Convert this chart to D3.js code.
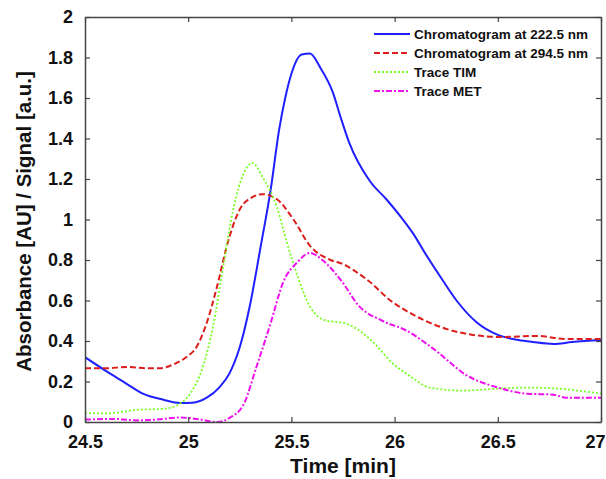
<!DOCTYPE html>
<html><head><meta charset="utf-8">
<script src="https://cdn.jsdelivr.net/npm/d3@7"></script>
<style>
html,body{margin:0;padding:0;background:#fff;}
svg{display:block;font-family:"Liberation Sans",Arial,sans-serif;}
</style></head>
<body><svg id="chart" width="606" height="479"></svg>
<script>
// ---- data (time [min], value) ----
const xTicks = [24.5, 25, 25.5, 26, 26.5, 27];
const yTicks = [0, 0.2, 0.4, 0.6, 0.8, 1, 1.2, 1.4, 1.6, 1.8, 2];
const seriesNames = ["Chromatogram at 222.5 nm", "Chromatogram at 294.5 nm", "Trace TIM", "Trace MET"];

const chrom222 = [[24.5,0.32],[24.62,0.24],[24.7,0.19],[24.78,0.14],[24.88,0.11],[24.96,0.094],[25.02,0.095],[25.09,0.12],[25.15,0.17],[25.2,0.24],[25.25,0.37],[25.3,0.58],[25.35,0.86],[25.4,1.15],[25.44,1.44],[25.47,1.6],[25.5,1.72],[25.55,1.815],[25.59,1.82],[25.64,1.75],[25.7,1.63],[25.74,1.5],[25.78,1.38],[25.88,1.19],[25.96,1.1],[26.04,1.0],[26.09,0.93],[26.15,0.83],[26.22,0.72],[26.3,0.6],[26.4,0.49],[26.5,0.43],[26.6,0.405],[26.67,0.395],[26.77,0.385],[26.86,0.395],[27.0,0.405]];
const chrom294 = [[24.5,0.265],[24.6,0.265],[24.7,0.272],[24.8,0.265],[24.86,0.265],[24.93,0.285],[24.99,0.32],[25.04,0.37],[25.09,0.49],[25.14,0.67],[25.19,0.88],[25.25,1.05],[25.31,1.11],[25.36,1.125],[25.43,1.10],[25.51,1.0],[25.59,0.87],[25.69,0.80],[25.75,0.78],[25.83,0.73],[25.87,0.70],[25.98,0.60],[26.09,0.53],[26.22,0.47],[26.38,0.43],[26.51,0.42],[26.69,0.425],[26.83,0.41],[27.0,0.41]];
const traceTIM = [[24.5,0.045],[24.6,0.042],[24.75,0.06],[24.88,0.065],[24.95,0.085],[25.01,0.14],[25.07,0.27],[25.12,0.47],[25.17,0.77],[25.22,1.06],[25.27,1.23],[25.31,1.28],[25.36,1.21],[25.43,1.06],[25.48,0.88],[25.53,0.72],[25.59,0.57],[25.67,0.50],[25.75,0.49],[25.8,0.47],[25.9,0.39],[25.99,0.29],[26.07,0.23],[26.17,0.17],[26.33,0.155],[26.5,0.165],[26.64,0.17],[26.79,0.165],[27.0,0.14]];
const traceMET = [[24.5,0.012],[24.65,0.015],[24.75,0.008],[24.85,0.012],[24.96,0.022],[25.06,0.012],[25.14,0.0],[25.2,0.02],[25.27,0.09],[25.33,0.27],[25.4,0.49],[25.46,0.69],[25.53,0.79],[25.59,0.835],[25.65,0.80],[25.74,0.70],[25.83,0.57],[25.94,0.50],[26.06,0.45],[26.19,0.36],[26.35,0.23],[26.5,0.17],[26.64,0.14],[26.77,0.135],[26.83,0.12],[27.0,0.12]];

const xLabel = "Time [min]";
const yLabel = "Absorbance [AU] / Signal [a.u.]";

// ---- drawing ----
const svg = d3.select("#chart");
const m = {left:85, right:601, top:17, bottom:422};
const x = d3.scaleLinear().domain([24.5, 27]).range([m.left, m.right]);
const y = d3.scaleLinear().domain([0, 2]).range([m.bottom, m.top]);

const styles = [
  {data: chrom222, color:"#1f1fff", width:2, dash:null},
  {data: chrom294, color:"#dd1c1c", width:2, dash:"6,3"},
  {data: traceTIM, color:"#77ff22", width:1.8, dash:"2,2"},
  {data: traceMET, color:"#ee11ee", width:2, dash:"6,2,2,2"}
];

const line = d3.line().x(d=>x(d[0])).y(d=>y(d[1])).curve(d3.curveMonotoneX);

svg.append("defs").append("clipPath").attr("id","clip")
  .append("rect").attr("x",m.left).attr("y",m.top).attr("width",m.right-m.left).attr("height",m.bottom-m.top);

const plot = svg.append("g").attr("clip-path","url(#clip)");
styles.forEach(s=>{
  plot.append("path").datum(s.data).attr("d",line)
    .attr("fill","none").attr("stroke",s.color).attr("stroke-width",s.width)
    .attr("stroke-dasharray",s.dash).attr("stroke-linejoin","round");
});

const axisColor = "#444";
const tickFont = "bold 18px 'Liberation Sans', Arial, sans-serif";

// bottom axis
const xb = svg.append("g").attr("transform",`translate(0,${m.bottom})`)
  .call(d3.axisBottom(x).tickValues(xTicks).tickSizeInner(-5).tickSizeOuter(0).tickPadding(13).tickFormat(d3.format("")));
// top axis (ticks only)
const xt = svg.append("g").attr("transform",`translate(0,${m.top})`)
  .call(d3.axisTop(x).tickValues(xTicks).tickSizeInner(-5).tickSizeOuter(0).tickFormat(""));
// left axis
const yl = svg.append("g").attr("transform",`translate(${m.left},0)`)
  .call(d3.axisLeft(y).tickValues(yTicks).tickSizeInner(-5).tickSizeOuter(0).tickPadding(12).tickFormat(d3.format("")));
// right axis (ticks only)
const yr = svg.append("g").attr("transform",`translate(${m.right},0)`)
  .call(d3.axisRight(y).tickValues(yTicks).tickSizeInner(-5).tickSizeOuter(0).tickFormat(""));

[xb,xt,yl,yr].forEach(g=>{
  g.select(".domain").attr("stroke",axisColor).attr("stroke-width",1.5);
  g.selectAll(".tick line").attr("stroke",axisColor).attr("stroke-width",1.2);
  g.selectAll(".tick text").attr("fill","#111").style("font",tickFont);
});
// keep the last x label inside the picture
xb.selectAll(".tick text").filter(d=>d===27).attr("text-anchor","end").attr("x",4);

// axis titles
svg.append("text").attr("x",(m.left+m.right)/2).attr("y",473)
  .attr("text-anchor","middle").attr("fill","#111")
  .style("font","bold 21px 'Liberation Sans', Arial, sans-serif").text(xLabel);
svg.append("text").attr("transform",`translate(31,${(m.top+m.bottom)/2+2}) rotate(-90)`)
  .attr("text-anchor","middle").attr("fill","#111")
  .style("font","bold 20.5px 'Liberation Sans', Arial, sans-serif").text(yLabel);

// legend
const leg = svg.append("g");
seriesNames.forEach((name,i)=>{
  const ly = 34 + i*19;
  const s = styles[i];
  leg.append("line").attr("x1",374).attr("x2",410).attr("y1",ly).attr("y2",ly)
    .attr("stroke",s.color).attr("stroke-width",s.width).attr("stroke-dasharray",s.dash);
  leg.append("text").attr("x",414).attr("y",ly+5).attr("fill","#111")
    .style("font","bold 13.5px 'Liberation Sans', Arial, sans-serif").text(name);
});
</script></body></html>
